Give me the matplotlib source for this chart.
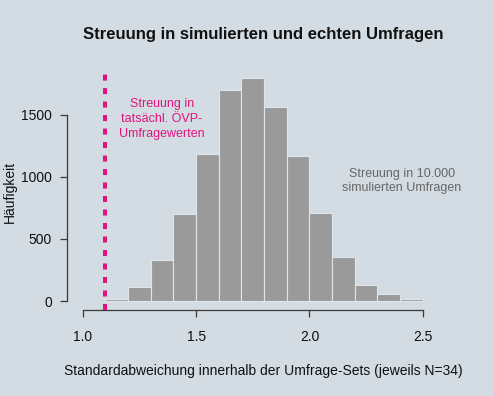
import numpy as np
import matplotlib
matplotlib.use("Agg")
import matplotlib.pyplot as plt

plt.rcParams['font.family'] = ['Liberation Sans', 'DejaVu Sans']

# histogram of simulated standard deviations (bins of 0.1)
bin_left = [1.1, 1.2, 1.3, 1.4, 1.5, 1.6, 1.7, 1.8, 1.9, 2.0, 2.1, 2.2, 2.3, 2.4]
counts = [14, 113, 334, 702, 1181, 1699, 1794, 1565, 1169, 713, 355, 132, 54, 19]
bin_width = 0.1

real_sd = 1.1  # spread in actual polls
x_ticks = [1.0, 1.5, 2.0, 2.5]
y_ticks = [0, 500, 1000, 1500]

bg = '#d3dce3'
W, H = 494, 396
fig = plt.figure(figsize=(W / 100, H / 100), dpi=100, facecolor=bg)
ax = fig.add_axes([66.7 / W, 1 - 310 / H, (438.9 - 66.7) / W, (310 - 68.6) / H])
ax.set_facecolor(bg)

ax.bar(bin_left, counts, width=bin_width, align='edge', color='#9a9a9a',
       edgecolor='#dfe5ea', linewidth=0.8, zorder=2)

ax.axvline(real_sd, color='#e0147f', linewidth=2.9, dashes=(1.5, 1.85),
           dash_capstyle='butt', zorder=3)

ax.set_xlim(0.929, 2.571)
ax.set_ylim(-72, 1872)

for s in ['top', 'right']:
    ax.spines[s].set_visible(False)
ax.spines['left'].set_bounds(0, 1500)
ax.spines['bottom'].set_bounds(1.0, 2.5)
for s in ['left', 'bottom']:
    ax.spines[s].set_color('#3a3a3a')
    ax.spines[s].set_linewidth(0.9)

ax.set_xticks(x_ticks)
ax.set_xticklabels(['%.1f' % v for v in x_ticks])
ax.set_yticks(y_ticks)
ax.tick_params(axis='both', direction='out', length=5.2, width=0.9,
               color='#3a3a3a', labelsize=10, labelcolor='#111111')
ax.tick_params(axis='x', pad=9)
ax.tick_params(axis='y', pad=5.5)

ax.text(1.348, 1465, 'Streuung in\ntatsächl. ÖVP-\nUmfragewerten', color='#e0147f',
        fontsize=9, ha='center', va='center', linespacing=1.3)
ax.text(2.408, 965, 'Streuung in 10.000\nsimulierten Umfragen', color='#666666',
        fontsize=9, ha='center', va='center', linespacing=1.25)

fig.text(263.5 / W, 1 - 34 / H, 'Streuung in simulierten und echten Umfragen',
         fontsize=12, fontweight='bold', ha='center', va='center', color='#111111')
fig.text(263.5 / W, 1 - 370.7 / H,
         'Standardabweichung innerhalb der Umfrage-Sets (jeweils N=34)',
         fontsize=10, ha='center', va='center', color='#111111')
fig.text(10 / W, 1 - 192 / H, 'Häufigkeit', fontsize=10, rotation=90,
         ha='center', va='center', color='#111111')

fig.savefig('out.png', dpi=100, facecolor=bg)
